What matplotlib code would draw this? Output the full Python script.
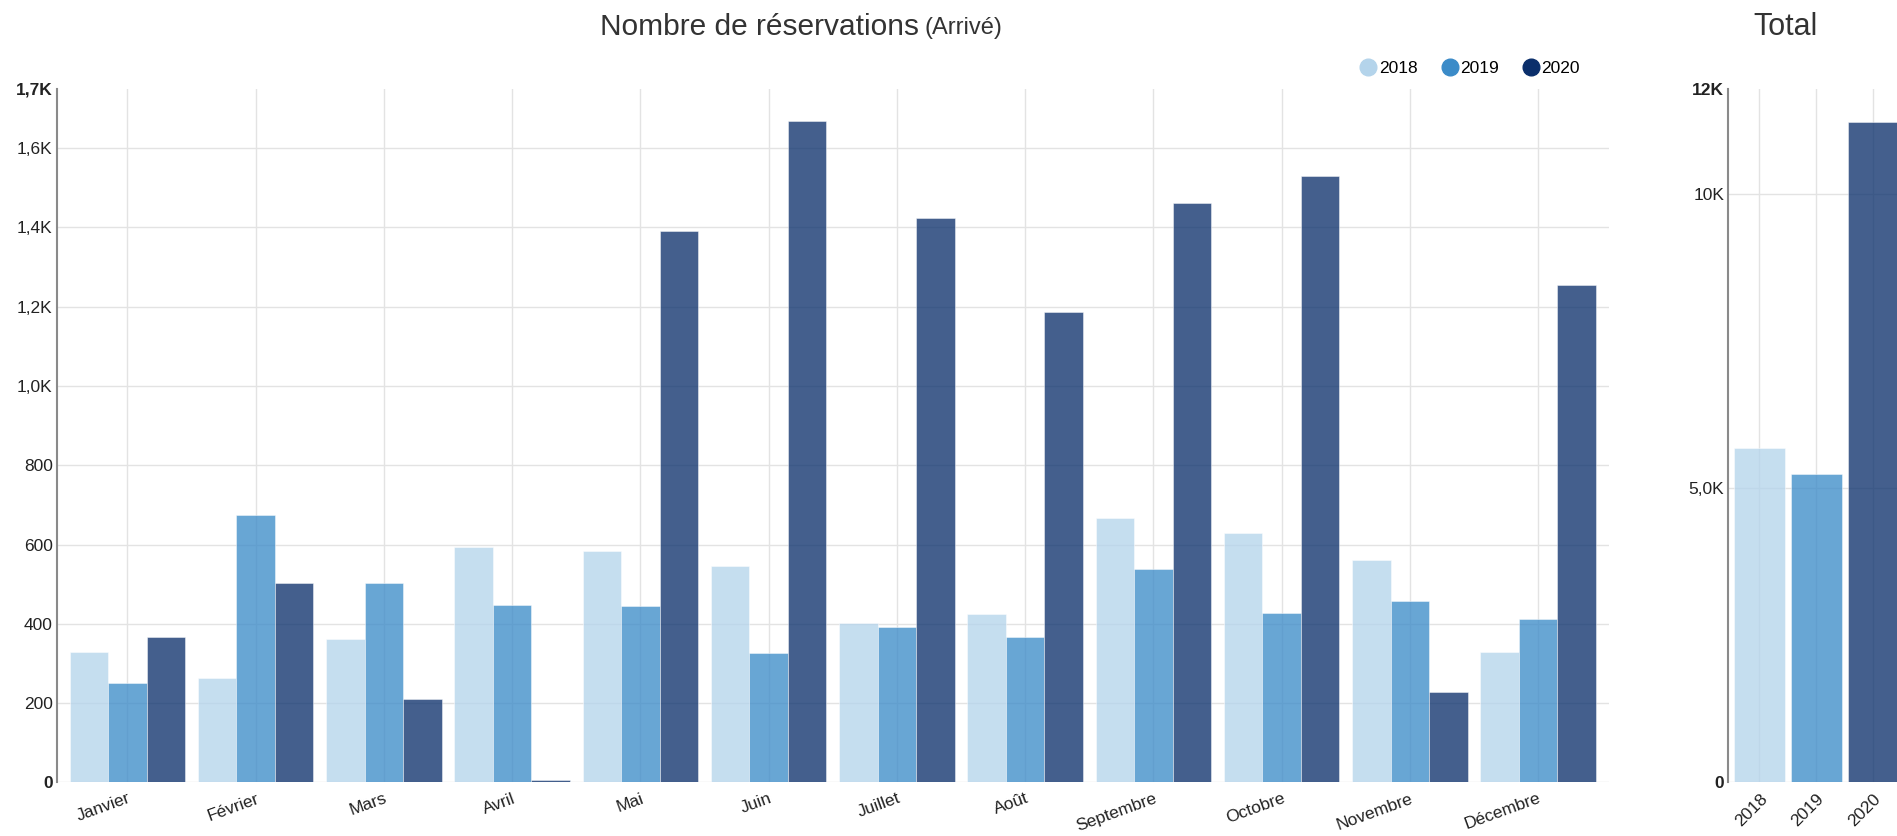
import matplotlib.pyplot as plt
import numpy as np
from matplotlib.lines import Line2D

plt.rcParams['font.family'] = ['Liberation Sans', 'DejaVu Sans']

# Données
mois = ['Janvier', 'Février', 'Mars', 'Avril', 'Mai', 'Juin', 'Juillet',
        'Août', 'Septembre', 'Octobre', 'Novembre', 'Décembre']
annees = ['2018', '2019', '2020']
res_2018 = [328, 264, 362, 593, 585, 547, 401, 425, 667, 628, 560, 329]
res_2019 = [252, 674, 504, 448, 446, 326, 392, 366, 538, 428, 457, 413]
res_2020 = [366, 504, 210, 6, 1392, 1668, 1423, 1187, 1462, 1529, 228, 1254]
couleurs = ['#b4d4eb', '#3b8bc8', '#0b2f6b']

series = [res_2018, res_2019, res_2020]
totaux = [sum(s) for s in series]

fig = plt.figure(figsize=(18.97, 8.36), dpi=100)
ax = fig.add_axes([0.030, 0.064, 0.818, 0.830])
ax2 = fig.add_axes([0.911, 0.064, 0.093, 0.830])

# Graphique mensuel
x = np.arange(len(mois))
largeur = 0.3
for i, (vals, c) in enumerate(zip(series, couleurs)):
    ax.bar(x + (i - 1) * largeur, vals, width=largeur, color=c, alpha=0.77,
           edgecolor='white', linewidth=0.4, zorder=2)

ax.set_xlim(-0.55, len(mois) - 0.45)
ax.set_ylim(0, 1750)
yt = [0, 200, 400, 600, 800, 1000, 1200, 1400, 1600, 1750]
ax.set_yticks(yt)
ax.set_yticklabels(['0', '200', '400', '600', '800', '1,0K', '1,2K', '1,4K', '1,6K', '1,7K'])
ax.set_xticks(x)
ax.set_xticklabels(mois, rotation=20, ha='right', rotation_mode='anchor')

# Total
xt = np.arange(len(annees))
for i in range(len(annees)):
    ax2.bar(xt[i], totaux[i], width=0.89, color=couleurs[i], alpha=0.77,
            edgecolor='white', linewidth=0.4, zorder=2)
ax2.set_xlim(-0.55, 2.55)
ax2.set_ylim(0, 11800)
ax2.set_yticks([0, 5000, 10000, 11800])
ax2.set_yticklabels(['0', '5,0K', '10K', '12K'])
ax2.set_xticks(xt)
ax2.set_xticklabels(annees, rotation=45, ha='right', rotation_mode='anchor')

for a in (ax, ax2):
    a.grid(True, color='#e3e3e3', linewidth=1, zorder=0)
    a.set_axisbelow(True)
    a.yaxis.get_gridlines()[-1].set_visible(False)
    for s in ('top', 'right', 'bottom'):
        a.spines[s].set_visible(False)
    a.spines['left'].set_color('#8a8a8a')
    a.spines['left'].set_linewidth(1.5)
    a.tick_params(length=0, labelsize=12.5, colors='#222222')
    a.tick_params(axis='y', pad=3)
    a.tick_params(axis='x', pad=6)
    lbls = a.get_yticklabels()
    lbls[0].set_fontweight('bold')
    lbls[-1].set_fontweight('bold')

# Titres
fig.text(0.4847, 0.968, 'Nombre de réservations', ha='right', va='center',
         fontsize=21.5, color='#333333')
fig.text(0.4875, 0.966, '(Arrivé)', ha='left', va='center',
         fontsize=17, color='#333333')
fig.text(0.941, 0.968, 'Total', ha='center', va='center',
         fontsize=22, color='#333333')

# Légende
poignees = [Line2D([], [], marker='o', ls='', color=c, markersize=12) for c in couleurs]
fig.legend(poignees, annees, loc='center right', bbox_to_anchor=(0.841, 0.918),
           ncol=3, frameon=False, handletextpad=0.1, columnspacing=1.35,
           handlelength=1, fontsize=12.5)

fig.savefig('out.png', dpi=100)
